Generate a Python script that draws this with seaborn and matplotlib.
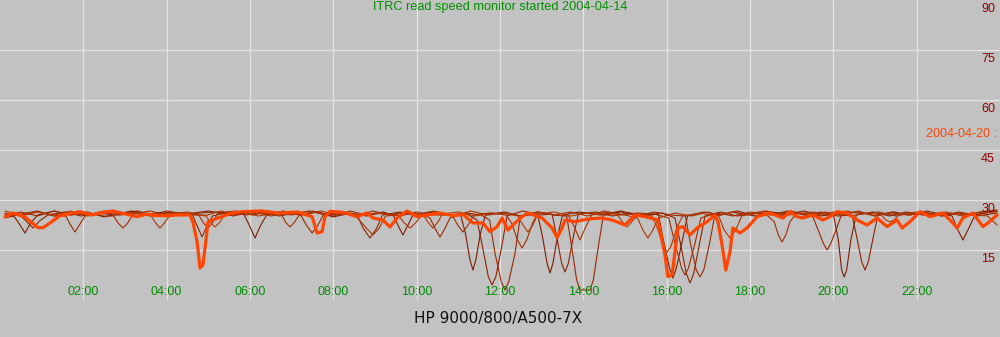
import matplotlib
matplotlib.use("Agg")
import matplotlib.pyplot as plt
import pandas as pd
import seaborn as sns

# ---------------- data: (hour of day, read speed) ----------------
days_thin = ["2004-04-14", "2004-04-15", "2004-04-16", "2004-04-17", "2004-04-18", "2004-04-19"]
current_day = "2004-04-20"

d14 = [(0.12,25.8),(0.35,24.9),(0.48,22.5),(0.60,20.1),(0.72,22.8),(0.90,25.5),(1.30,26.7),(1.70,25.5),
       (2.10,26.4),(2.50,24.9),(2.90,26.1),(3.30,26.7),(3.70,25.2),(4.10,26.4),(4.50,25.8),(5.00,26.7),
       (5.50,25.5),(5.85,25.8),(5.98,22.5),(6.12,18.6),(6.26,22.5),(6.40,25.5),(6.80,26.7),(7.20,25.5),
       (7.60,26.4),(8.00,24.9),(8.40,26.1),(8.80,25.2),(9.20,26.4),(9.45,25.2),(9.56,22.2),(9.67,19.5),
       (9.78,22.2),(9.90,25.2),(10.30,26.4),(10.70,25.5),(11.05,25.8),(11.17,20.0),(11.28,12.0),(11.35,9.0),
       (11.42,12.0),(11.53,20.0),(11.65,25.5),(12.10,26.4),(12.50,25.2),(12.90,25.8),(13.02,19.0),(13.13,11.0),
       (13.20,8.1),(13.27,11.0),(13.38,19.0),(13.50,25.5),(13.90,26.4),(14.40,25.5),(14.90,26.7),(15.40,25.2),
       (15.80,25.8),(15.92,18.0),(16.07,9.5),(16.15,6.6),(16.23,9.5),(16.38,18.0),(16.50,25.2),(16.90,26.4),
       (17.30,25.5),(17.70,26.7),(18.10,25.2),(18.50,26.4),(18.90,25.8),(19.30,26.7),(19.70,25.2),(20.00,25.8),
       (20.12,18.0),(20.20,9.0),(20.26,6.9),(20.32,9.0),(20.42,18.0),(20.55,25.5),(20.95,26.4),(21.35,25.2),
       (21.75,26.4),(22.15,25.5),(22.55,26.1),(22.85,25.2),(22.97,21.5),(23.11,18.0),(23.25,21.5),(23.40,25.5),
       (23.70,26.4),(23.93,26.7)]

d15 = [(0.12,25.2),(0.45,25.8),(0.62,23.8),(0.79,21.6),(0.96,23.8),(1.15,25.5),(1.55,26.4),(1.95,25.2),
       (2.35,26.1),(2.75,25.5),(3.15,26.7),(3.55,25.8),(3.95,26.4),(4.35,25.5),(4.62,25.5),(4.74,22.0),
       (4.85,18.9),(4.96,22.0),(5.10,25.2),(5.50,26.4),(5.90,25.5),(6.30,26.4),(6.70,25.2),(7.10,26.1),
       (7.50,26.7),(7.90,25.5),(8.30,26.1),(8.58,25.2),(8.72,21.5),(8.88,18.6),(9.04,21.5),(9.18,25.5),
       (9.60,26.4),(10.00,25.2),(10.40,26.7),(10.80,25.5),(11.20,25.8),(11.45,24.0),(11.58,16.0),(11.72,7.0),
       (11.81,4.5),(11.90,7.0),(12.04,16.0),(12.17,25.2),(12.55,26.7),(12.95,25.5),(13.25,25.8),(13.36,19.0),
       (13.48,11.0),(13.56,8.4),(13.64,11.0),(13.76,19.0),(13.88,25.8),(14.30,26.4),(14.70,25.2),(15.10,26.1),
       (15.50,25.5),(15.90,26.1),(16.20,24.6),(16.33,17.0),(16.47,8.0),(16.56,5.1),(16.65,8.0),(16.79,17.0),
       (16.92,25.2),(17.30,26.4),(17.70,25.2),(18.10,26.1),(18.50,25.5),(18.90,26.7),(19.30,25.5),(19.70,26.4),
       (20.10,25.2),(20.45,25.5),(20.56,19.0),(20.68,11.5),(20.76,9.0),(20.84,11.5),(20.96,19.0),(21.07,25.5),
       (21.45,26.4),(21.85,25.5),(22.25,26.7),(22.65,25.5),(23.05,26.1),(23.45,25.2),(23.93,26.1)]

d16 = [(0.12,24.6),(0.50,25.8),(0.90,26.7),(1.30,25.2),(1.58,25.2),(1.68,22.8),(1.80,20.4),(1.92,22.8),
       (2.04,25.2),(2.40,26.4),(2.80,25.5),(3.20,26.1),(3.60,25.2),(4.00,26.7),(4.40,25.8),(5.20,26.4),
       (5.60,25.2),(6.00,26.7),(6.40,25.8),(6.80,26.1),(7.22,25.5),(7.35,22.5),(7.49,20.1),(7.63,22.5),
       (7.76,25.5),(8.15,26.4),(8.55,25.2),(8.95,26.7),(9.35,25.5),(9.75,26.4),(10.15,25.5),(10.32,24.6),
       (10.44,21.5),(10.56,18.9),(10.68,21.5),(10.80,24.6),(11.20,26.1),(11.55,25.5),(11.75,24.0),(11.88,14.0),
       (12.03,5.5),(12.12,3.0),(12.21,5.5),(12.36,14.0),(12.49,25.2),(12.90,26.4),(13.30,25.5),(13.60,25.2),
       (13.72,16.0),(13.84,6.0),(13.92,3.0),(14.16,3.0),(14.24,6.0),(14.36,16.0),(14.48,25.5),(14.90,26.4),
       (15.30,25.2),(15.70,26.4),(16.10,25.5),(16.45,25.2),(16.57,17.0),(16.71,9.0),(16.80,6.9),(16.89,9.0),
       (17.03,17.0),(17.15,25.2),(17.55,26.4),(17.95,25.5),(18.35,26.7),(18.75,25.5),(19.15,26.1),(19.50,25.2),
       (19.62,21.5),(19.76,17.0),(19.85,15.0),(19.94,17.0),(20.08,21.5),(20.20,25.8),(20.60,26.4),(21.00,25.2),
       (21.40,26.4),(21.80,25.5),(22.20,26.1),(22.60,25.2),(23.00,26.4),(23.40,25.5),(23.93,26.7)]

d17 = [(0.12,25.5),(0.50,26.4),(0.90,25.2),(1.30,26.7),(1.70,25.5),(2.10,26.1),(2.50,25.2),(2.73,25.2),
       (2.84,23.0),(2.95,21.6),(3.06,23.0),(3.20,25.8),(3.60,26.7),(4.00,25.5),(4.40,26.1),(4.77,25.5),
       (4.88,23.2),(4.99,21.6),(5.10,23.2),(5.23,26.1),(5.65,26.7),(6.05,25.5),(6.45,26.4),(6.75,25.8),
       (6.85,23.4),(6.96,21.9),(7.07,23.4),(7.20,25.8),(7.60,26.4),(8.00,25.2),(8.40,26.7),(8.80,25.5),
       (9.20,26.1),(9.60,25.2),(10.00,26.4),(10.40,25.5),(10.85,25.5),(10.98,22.6),(11.11,20.4),(11.24,22.6),
       (11.38,25.5),(11.75,26.1),(12.15,25.5),(12.28,23.0),(12.42,18.0),(12.53,15.6),(12.64,18.0),(12.78,23.0),
       (12.92,26.4),(13.30,25.5),(13.70,26.4),(14.10,25.2),(14.50,26.7),(14.90,25.5),(15.30,26.1),(15.70,25.8),
       (16.05,24.6),(16.20,17.0),(16.36,9.5),(16.44,7.5),(16.52,9.5),(16.68,17.0),(16.82,24.6),(17.20,26.1),
       (17.60,25.2),(18.00,26.4),(18.40,25.5),(18.58,23.5),(18.68,19.5),(18.77,17.4),(18.86,19.5),(18.96,23.5),
       (19.10,25.8),(19.50,26.4),(19.90,25.5),(20.30,26.7),(20.70,25.8),(21.10,26.4),(21.50,25.2),(21.90,26.1),
       (22.30,25.5),(22.70,26.4),(23.10,25.2),(23.50,26.4),(23.93,27.0)]

d18 = [(0.12,26.1),(0.50,25.2),(0.90,26.4),(1.30,25.5),(1.70,26.7),(2.10,25.2),(2.50,26.1),(2.90,25.5),
       (3.30,26.4),(3.62,25.5),(3.73,23.2),(3.84,21.6),(3.95,23.2),(4.10,25.8),(4.50,26.4),(4.90,25.2),
       (5.30,26.7),(5.70,25.5),(6.10,26.4),(6.50,25.2),(6.90,26.1),(7.30,25.5),(7.70,26.7),(8.10,25.5),
       (8.50,25.8),(8.62,24.0),(8.80,21.5),(8.95,19.5),(9.10,21.5),(9.25,25.2),(9.55,25.5),(9.70,23.2),
       (9.84,21.6),(9.98,23.2),(10.12,25.5),(10.50,26.4),(10.90,25.2),(11.30,26.7),(11.70,25.5),(12.10,26.1),
       (12.50,25.2),(12.90,26.4),(13.30,25.5),(13.65,25.2),(13.78,22.0),(13.92,18.0),(14.06,22.0),(14.20,25.5),
       (14.60,26.4),(15.00,25.5),(15.30,24.6),(15.43,21.0),(15.55,18.6),(15.67,21.0),(15.80,24.6),(16.20,26.1),
       (16.60,25.2),(17.00,26.4),(17.25,25.2),(17.38,21.0),(17.52,18.6),(17.66,21.0),(17.80,25.2),(18.20,26.4),
       (18.60,25.5),(19.00,26.7),(19.40,25.2),(19.80,26.4),(20.20,25.5),(20.60,26.7),(21.00,25.2),(21.40,26.1),
       (21.80,25.5),(22.20,26.4),(22.60,25.2),(23.00,26.1),(23.40,25.5),(23.70,25.2),(23.93,22.5)]

d19 = [(0.12,26.7),(0.50,25.5),(0.90,26.4),(1.30,25.2),(1.70,26.1),(2.10,25.5),(2.50,26.7),(2.90,25.8),
       (3.30,26.4),(3.70,25.2),(4.10,26.1),(4.50,25.5),(4.93,25.5),(5.04,23.4),(5.16,21.9),(5.28,23.4),
       (5.40,25.8),(5.80,26.4),(6.20,25.2),(6.60,26.1),(7.00,25.5),(7.40,26.7),(7.80,25.5),(8.20,26.4),
       (8.60,25.2),(9.00,26.1),(9.40,25.5),(9.80,26.4),(10.16,25.5),(10.28,23.2),(10.39,21.6),(10.50,23.2),
       (10.62,25.8),(11.00,26.4),(11.40,25.2),(11.80,26.1),(12.20,25.8),(12.43,25.2),(12.55,22.5),(12.67,20.4),
       (12.79,22.5),(12.91,25.8),(13.30,26.4),(13.70,25.2),(14.10,26.1),(14.50,25.5),(14.82,25.5),(14.94,23.4),
       (15.05,21.9),(15.16,23.4),(15.30,25.5),(15.65,25.2),(15.78,21.5),(15.92,16.0),(16.01,14.4),(16.10,16.0),
       (16.24,21.5),(16.38,25.2),(16.80,26.1),(17.20,25.2),(17.60,26.4),(18.00,25.5),(18.40,26.7),(18.80,25.2),
       (19.20,26.1),(19.60,25.5),(20.00,26.4),(20.40,25.2),(20.80,26.1),(21.15,25.5),(21.26,24.0),(21.36,23.4),
       (21.46,24.0),(21.60,25.8),(22.00,26.4),(22.40,25.2),(22.80,26.1),(23.20,25.5),(23.60,26.4),(23.93,26.4)]

d20 = [(0.12,25.0),(0.31,26.1),(0.60,24.9),(0.91,21.7),(1.03,21.7),(1.20,23.1),(1.44,25.3),(1.92,26.5),
       (2.21,25.5),(2.40,26.1),(2.71,26.7),(3.05,25.7),(3.29,25.0),(3.53,25.8),(3.77,25.3),(4.01,25.3),
       (4.27,25.5),(4.56,25.5),(4.63,23.4),(4.73,17.5),(4.80,9.6),(4.87,10.5),(4.94,17.5),(4.99,23.4),
       (5.23,24.6),(5.57,26.1),(5.81,26.5),(6.29,26.7),(6.67,26.1),(7.15,26.4),(7.49,25.0),(7.61,20.1),
       (7.73,20.5),(7.80,25.0),(7.92,26.6),(8.23,26.3),(8.57,25.0),(8.81,26.1),(8.95,24.6),(9.19,24.0),
       (9.36,21.9),(9.53,24.6),(9.77,26.7),(10.01,25.0),(10.25,25.5),(10.56,26.1),(10.87,25.3),(11.11,25.7),
       (11.35,23.1),(11.59,23.1),(11.76,20.5),(11.93,22.0),(12.05,24.6),(12.19,21.0),(12.36,23.1),(12.53,25.0),
       (12.67,26.1),(13.01,24.6),(13.25,21.6),(13.37,18.7),(13.49,21.6),(13.56,24.0),(13.80,23.5),(14.11,24.3),
       (14.45,24.6),(14.69,24.0),(15.00,22.5),(15.24,25.5),(15.48,25.0),(15.79,24.0),(15.96,13.5),(16.03,7.0),
       (16.13,7.5),(16.20,14.5),(16.27,21.6),(16.39,22.0),(16.56,19.5),(16.73,21.6),(16.97,23.5),(17.16,25.5),
       (17.23,23.5),(17.33,16.5),(17.42,9.0),(17.52,14.5),(17.59,21.6),(17.76,20.1),(17.93,21.6),(18.17,25.0),
       (18.48,26.1),(18.79,24.6),(18.96,26.5),(19.13,25.0),(19.27,24.6),(19.51,25.5),(19.75,24.0),(19.92,25.0),
       (20.09,26.5),(20.33,26.1),(20.57,24.0),(20.81,22.5),(21.05,24.6),(21.29,22.0),(21.53,24.0),(21.65,21.6),
       (21.84,23.5),(22.08,26.5),(22.32,25.0),(22.63,26.1),(22.87,23.1),(22.97,21.6),(23.11,24.6),(23.35,26.1),
       (23.59,22.0),(23.71,23.1),(23.93,25.5)]

y_ticks = [15, 30, 45, 60, 75, 90]
x_ticks = [2, 4, 6, 8, 10, 12, 14, 16, 18, 20, 22]
x_labels = ["02:00", "04:00", "06:00", "08:00", "10:00", "12:00",
            "14:00", "16:00", "18:00", "20:00", "22:00"]
title = "ITRC read speed monitor started 2004-04-14"
host = "HP 9000/800/A500-7X"

# ---------------- frames ----------------
thin_series = [d14, d15, d16, d17, d18, d19]
thin_df = pd.concat(
    [pd.DataFrame(s, columns=["hour", "speed"]).assign(day=d) for s, d in zip(thin_series, days_thin)],
    ignore_index=True)
cur_df = pd.DataFrame(d20, columns=["hour", "speed"]).assign(day=current_day)

thin_colors = ["#7e1a00", "#8c2200", "#982800", "#a22c00", "#ac3200", "#b43800"]
palette = dict(zip(days_thin, thin_colors))

BG = "#c2c2c2"
sns.set_theme(style="white", rc={"axes.facecolor": BG, "figure.facecolor": BG})
plt.rcParams["font.family"] = ["Liberation Sans", "DejaVu Sans"]

fig = plt.figure(figsize=(10, 3.37), dpi=100)
fig.patch.set_facecolor(BG)
ax = fig.add_axes([0, 37 / 337, 1, 300 / 337])
ax.set_facecolor(BG)

sns.lineplot(data=thin_df, x="hour", y="speed", hue="day", palette=palette, units="day",
             estimator=None, sort=False, linewidth=0.8, legend=False, ax=ax, zorder=3)
sns.lineplot(data=cur_df, x="hour", y="speed", color="#ff4500",
             estimator=None, sort=False, linewidth=2.3, legend=False, ax=ax, zorder=4)

ax.set_xlim(0, 24)
ax.set_ylim(0, 90)
ax.set_xticks(x_ticks)
ax.set_yticks(y_ticks[:-1])
ax.grid(True, color="#e4e4e4", linewidth=0.9, zorder=1)
ax.set_axisbelow(True)
ax.tick_params(length=0, labelbottom=False, labelleft=False)
ax.set_xlabel("")
ax.set_ylabel("")
for s in ax.spines.values():
    s.set_visible(False)

for yv in y_ticks:
    ax.annotate(str(yv), xy=(1, yv), xycoords=("axes fraction", "data"),
                xytext=(-5, -9), textcoords="offset pixels",
                ha="right", va="center", color="#8b0000", fontsize=9)

for xv, lab in zip(x_ticks, x_labels):
    ax.annotate(lab, xy=(xv, 0), xycoords="data",
                xytext=(0, 8), textcoords="offset pixels",
                ha="center", va="center", color="#008c00", fontsize=9)

fig.text(0.5, 1 - 7 / 337, title, ha="center", va="center", color="#009000", fontsize=9.2)
fig.text(0.997, 1 - 134 / 337, current_day + " :", ha="right", va="center",
         color="#ff4500", fontsize=9)
fig.text(0.498, 1 - 318 / 337, host, ha="center", va="center", color="#111111",
         fontsize=11, family="DejaVu Sans")

fig.savefig("out.png", dpi=100, facecolor=BG)
